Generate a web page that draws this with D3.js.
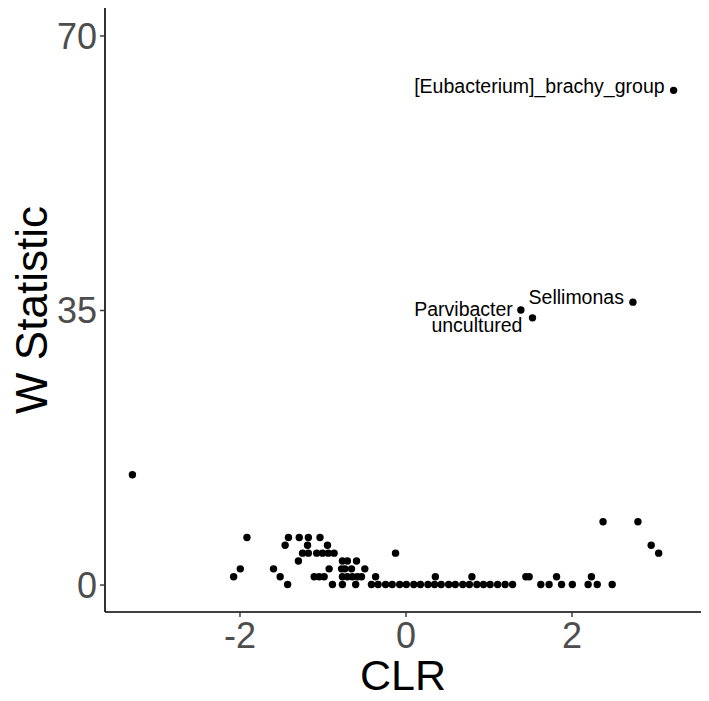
<!DOCTYPE html>
<html>
<head>
<meta charset="utf-8">
<script src="https://cdn.jsdelivr.net/npm/d3@7"></script>
<style>
  body { margin: 0; background: #fff; }
  text { font-family: "Liberation Sans", Arial, sans-serif; }
</style>
</head>
<body>
<div id="chart"></div>
<script>
// W statistic vs CLR (one point per taxon)
const clr = [
  // W = 0
  -1.42, -0.88, -0.76, -0.60, -0.41, -0.33, -0.24, -0.16, -0.07, 0.01, 0.10, 0.18,
  0.27, 0.35, 0.43, 0.52, 0.60, 0.69, 0.77, 0.86, 0.94, 1.02, 1.11, 1.20, 1.29,
  1.63, 1.73, 1.88, 2.01, 2.20, 2.31, 2.49,
  // W = 1
  -2.07, -1.51, -1.10, -1.04, -0.98, -0.76, -0.70, -0.64, -0.58, -0.53, -0.36,
  0.36, 0.80, 1.45, 1.49, 1.82, 2.24,
  // W = 2
  -1.99, -1.59, -0.92, -0.77, -0.73, -0.65, -0.49,
  // W = 3
  -1.29, -0.76, -0.70, -0.59,
  // W = 4
  -1.24, -1.17, -1.07, -1.00, -0.93, -0.86, -0.12, 3.05,
  // W = 5
  -1.45, -1.18, -0.94, 2.96,
  // W = 6
  -1.91, -1.41, -1.28, -1.17, -1.03,
  // W = 8
  2.38, 2.80,
  // W = 14
  -3.29
];
const wStat = [
  0,0,0,0,0,0,0,0,0,0,0,0,0,0,0,0,0,0,0,0,0,0,0,0,0,0,0,0,0,0,0,0,
  1,1,1,1,1,1,1,1,1,1,1,1,1,1,1,1,1,
  2,2,2,2,2,2,2,
  3,3,3,3,
  4,4,4,4,4,4,4,4,
  5,5,5,5,
  6,6,6,6,6,
  8,8,
  14
];

// labelled taxa
const labelNames = ["[Eubacterium]_brachy_group", "Sellimonas", "Parvibacter", "uncultured"];
const labelClr = [3.23, 2.74, 1.39, 1.53];
const labelW = [63, 36, 35, 34];

const xTicks = [-2, 0, 2];
const yTicks = [0, 35, 70];

const width = 709, height = 701;
const m = {left: 105, right: 701, top: 8, bottom: 612};

let svg = d3.select("#chart").append("svg")
    .attr("width", width)
    .attr("height", height);

let x = d3.scaleLinear().domain([-3.62, 3.56]).range([m.left, m.right]);
let y = d3.scaleLinear().domain([-3.5, 73.5]).range([m.bottom, m.top]);

//axes (plain hyphen for negatives, like the original)
let xAxis = svg.append("g")
    .attr("transform", `translate(0,${m.bottom})`)
    .call(d3.axisBottom(x).tickValues(xTicks).tickFormat(d => String(d))
        .tickSize(5).tickPadding(5).tickSizeOuter(0));
let yAxis = svg.append("g")
    .attr("transform", `translate(${m.left},0)`)
    .call(d3.axisLeft(y).tickValues(yTicks).tickFormat(d => String(d))
        .tickSize(5).tickPadding(3).tickSizeOuter(0));

[xAxis, yAxis].forEach(a => {
    a.select(".domain").attr("stroke", "#000").attr("stroke-width", 1.6);
    a.selectAll(".tick line").attr("stroke", "#333").attr("stroke-width", 1.4);
    a.selectAll(".tick text")
        .attr("fill", "#4d4d4d")
        .style("font-size", "36px")
        .style("font-family", '"Liberation Sans", Arial, sans-serif');
});
// stretch axis lines to the panel edges
xAxis.select(".domain").attr("d", `M${m.left},0H${m.right}`);
yAxis.select(".domain").attr("d", `M0,${m.top}V${m.bottom}`);
yAxis.selectAll(".tick text").attr("dy", "0.36em");

//points
let pts = clr.map((c, i) => ({clr: c, w: wStat[i]}));
labelClr.forEach((c, i) => pts.push({clr: c, w: labelW[i]}));

svg.selectAll("circle")
    .data(pts)
    .enter()
    .append("circle")
    .attr("cx", d => x(d.clr))
    .attr("cy", d => y(d.w))
    .attr("r", 3.7)
    .attr("fill", "#000");

//labels (placed next to their points)
const labDx = [-9, -9, -8, -10];
const labDy = [2.5, 1.5, 6, 14];
svg.selectAll("text.lab")
    .data(labelNames)
    .enter()
    .append("text")
    .attr("class", "lab")
    .attr("x", (d, i) => x(labelClr[i]) + labDx[i])
    .attr("y", (d, i) => y(labelW[i]) + labDy[i])
    .attr("text-anchor", "end")
    .style("font-size", "19.5px")
    .attr("fill", "#000")
    .text(d => d);

//axis titles
svg.append("text")
    .attr("x", (m.left + m.right) / 2)
    .attr("y", 690)
    .attr("text-anchor", "middle")
    .style("font-size", "43px")
    .text("CLR");

svg.append("text")
    .attr("transform", `translate(47,${(m.top + m.bottom) / 2}) rotate(-90)`)
    .attr("text-anchor", "middle")
    .style("font-size", "44px")
    .text("W Statistic");
</script>
</body>
</html>
